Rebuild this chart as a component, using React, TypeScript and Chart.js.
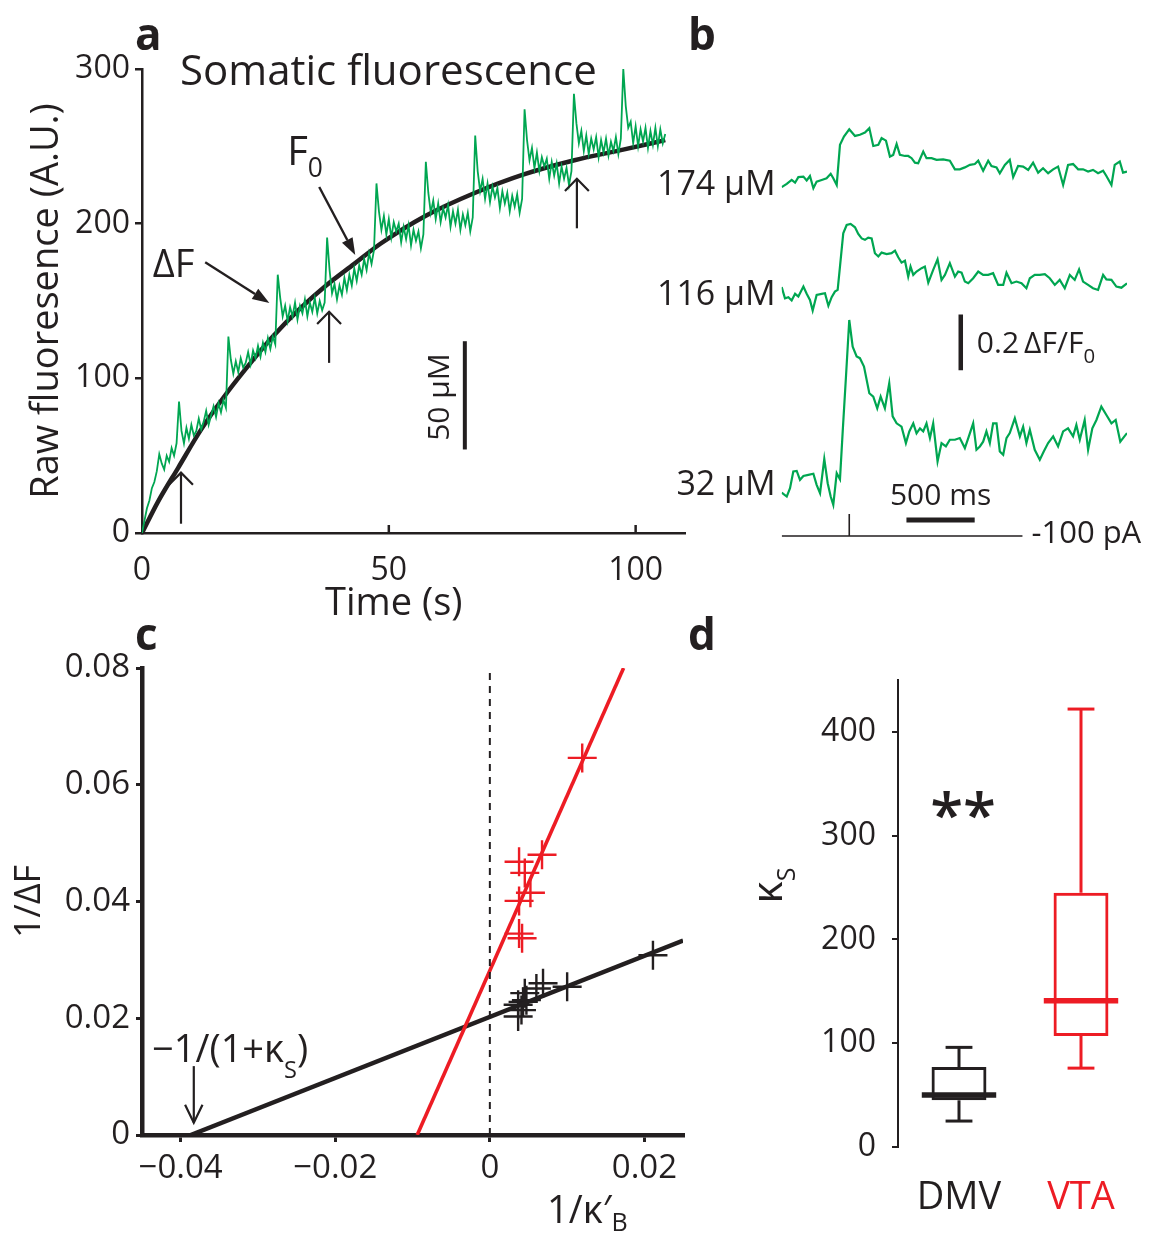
import React, { useEffect, useRef } from 'react';
import { Chart, registerables } from 'chart.js';

Chart.register(...registerables);

const FONT = '"Open Sans", "DejaVu Sans", sans-serif';
const INK = '#231f20';
const GREEN = '#00a651';
const RED = '#ed1c24';

/* ---------------- panel a : somatic fluorescence ---------------- */
const A_SAMPLE_STEP_S = 0.5;
const A_RAW_FLUORESCENCE = [
  0, 8, 16, 21, 29, 33, 40, 51, 45, 41, 50, 46, 55, 50, 58, 85,
  66, 58, 68, 61, 70, 63, 66, 74, 67, 72, 79, 70, 76, 82, 75, 84, 78, 86, 81, 127,
  112, 103, 111, 104, 113, 107, 110, 117, 109, 118, 113, 121, 114, 123, 117, 126, 119, 127, 122, 167,
  152, 140, 147, 137, 146, 140, 149, 138, 147, 142, 151, 140, 149, 143, 152, 142, 150, 144, 149, 191,
  170, 155, 161, 151, 160, 154, 165, 157, 167, 160, 171, 163, 173, 167, 177, 170, 181, 174, 183, 226,
  208, 196, 205, 193, 203, 191, 201, 195, 200, 188, 198, 190, 199, 186, 196, 189, 195, 184, 193, 240,
  220, 207, 215, 203, 213, 201, 210, 204, 212, 198, 208, 200, 209, 196, 206, 199, 207, 195, 204, 257,
  234, 221, 229, 216, 226, 214, 224, 217, 223, 210, 221, 213, 220, 208, 218, 211, 219, 207, 216, 274,
  254, 241, 249, 236, 246, 234, 243, 237, 242, 229, 240, 231, 239, 226, 237, 229, 236, 225, 234, 284,
  265, 252, 260, 247, 257, 245, 255, 248, 256, 243, 254, 246, 255, 244, 253, 247, 256, 245, 255, 300,
  276, 262, 266, 252, 263, 250, 261, 253, 262, 249, 260, 251, 262, 250, 261, 252, 258,
];
const A_FIT_TIME_S = [0, 3.2, 7.3, 12, 17.3, 22, 26.5, 32, 37.3, 43, 48.3, 57.4, 67.5, 77.5, 87.6, 97.7, 106];
const A_FIT_F0 = [0, 20, 42, 67, 91, 110, 127, 145, 160, 174, 187, 205, 220, 232, 241, 248, 254];
const A_X_TICKS = [0, 50, 100];
const A_Y_TICKS = [0, 100, 200, 300];
// [time, tail value, tip value]
const A_UP_ARROWS = [
  [7.9, 6, 39],
  [37.9, 110, 143],
  [88.1, 197, 229],
];
// [from time, from value, to time, to value]
const A_DF_ARROW = [12.8, 175, 25.8, 148.7];
const A_F0_ARROW = [35.9, 223.7, 43.2, 179.7];
const A_SCALE_BAR_TIME = 65.4;
const A_SCALE_BAR_RANGE = [54, 124];

/* ---------------- panel b : single responses ---------------- */
// [ms, ΔF/F0 in %]
const B_TRACE_174 = [
  [0, -1.4], [37, -0.2], [73, 1.2], [98, 0.2], [122, 2.2], [159, 2.4], [183, 1.0], [207, 2.6], [232, -1.8], [256, 0.6],
  [293, 1.2], [329, 1.8], [359, 3.4], [378, 1.8], [403, -0.6], [427, 13.8], [456, 16.8], [495, 19.4], [537, 17.0], [573, 17.4],
  [610, 18.2], [642, 19.8], [671, 13.4], [708, 13.8], [732, 16.2], [764, 15.3], [793, 9.6], [817, 10.2], [842, 14.1], [866, 10.2],
  [903, 9.8], [927, 9.8], [952, 9.0], [976, 7.4], [1000, 7.2], [1037, 11.4], [1061, 9.0], [1098, 9.0], [1135, 8.4], [1183, 8.6],
  [1232, 8.1], [1269, 5.0], [1305, 5.0], [1342, 5.7], [1379, 6.6], [1415, 6.9], [1440, 8.1], [1476, 4.5], [1513, 8.1], [1537, 6.2],
  [1574, 5.7], [1598, 3.6], [1635, 6.6], [1671, 8.4], [1696, 2.2], [1732, 6.2], [1769, 6.0], [1806, 4.8], [1842, 7.4], [1879, 3.8],
  [1915, 5.4], [1952, 3.6], [1989, 5.0], [2025, 6.0], [2062, -0.6], [2098, 6.6], [2135, 6.9], [2172, 5.0], [2208, 5.0], [2245, 4.2],
  [2281, 4.8], [2318, 3.6], [2355, 4.5], [2379, 2.6], [2416, -0.6], [2440, 6.6], [2477, 7.8], [2501, 3.8], [2530, 4.2],
];
const B_TRACE_116 = [
  [0, 2.2], [24, -1.8], [49, -1.4], [73, -2.6], [98, -0.2], [122, -1.2], [159, 2.4], [183, -0.2], [207, -2.4], [227, -6.2],
  [256, -0.6], [293, -0.2], [317, 0], [342, -4.5], [366, -1.4], [390, 0.6], [410, 1.2], [427, 9.6], [451, 21.5], [476, 24.5],
  [505, 24.9], [537, 23.7], [561, 21.3], [586, 19.7], [610, 19.2], [634, 20.0], [659, 19.7], [683, 14.4], [708, 13.2], [732, 14.6],
  [769, 14.1], [805, 14.4], [830, 15.3], [854, 12.9], [878, 11.0], [903, 11.7], [927, 6.0], [944, 9.6], [964, 6.6], [988, 7.8],
  [1025, 9.0], [1049, 9.6], [1074, 3.8], [1110, 8.4], [1142, 12.2], [1171, 4.8], [1196, 6.6], [1232, 10.8], [1269, 6.0], [1293, 7.8],
  [1318, 7.4], [1342, 4.2], [1367, 3.6], [1403, 5.4], [1440, 7.8], [1476, 6.6], [1513, 6.6], [1549, 7.2], [1586, 3.0], [1623, 3.0],
  [1647, 7.4], [1684, 3.6], [1720, 4.2], [1757, 3.6], [1793, 1.8], [1818, 5.4], [1854, 6.6], [1891, 6.6], [1928, 6.9], [1964, 5.4],
  [2001, 3.0], [2037, 4.8], [2074, 1.8], [2111, 6.6], [2147, 4.8], [2179, 8.6], [2208, 4.2], [2245, 3.0], [2281, 1.8], [2318, 1.2],
  [2355, 6.6], [2379, 5.0], [2416, 4.8], [2452, 2.4], [2489, 2.0], [2530, 3.6],
];
const B_TRACE_32 = [
  [0, -3.4], [37, -4.8], [61, -1.8], [85, 4.2], [110, 4.4], [134, 1.2], [159, 2.6], [195, 3.0], [232, 3.4], [256, -0.6],
  [281, -3.6], [312, 8.7], [337, 0], [359, -4.8], [378, -7.8], [403, 3.6], [427, 1.4], [447, 18.6], [471, 38.3], [495, 58.6],
  [520, 49.0], [549, 45.5], [573, 44.9], [603, 41.9], [642, 32.3], [671, 31.1], [700, 26.9], [725, 31.1], [756, 26.9], [788, 35.9],
  [813, 24.0], [842, 21.5], [878, 20.3], [910, 14.4], [935, 18.6], [964, 21.5], [988, 17.9], [1013, 19.7], [1037, 18.6], [1061, 21.5],
  [1086, 16.2], [1110, 21.5], [1142, 7.8], [1171, 14.4], [1203, 13.2], [1232, 15.6], [1269, 15.6], [1305, 16.2], [1342, 12.6], [1367, 16.2],
  [1403, 21.5], [1427, 12.0], [1452, 13.2], [1476, 14.9], [1500, 18.6], [1525, 14.4], [1549, 21.5], [1574, 21.5], [1598, 11.4], [1623, 10.2],
  [1647, 16.2], [1671, 18.0], [1708, 23.3], [1745, 16.8], [1769, 20.3], [1793, 14.4], [1818, 19.2], [1854, 12.0], [1891, 8.4], [1920, 11.4],
  [1952, 14.4], [1989, 16.8], [2025, 13.2], [2062, 18.6], [2098, 19.7], [2135, 16.8], [2159, 20.9], [2184, 15.6], [2220, 22.7], [2245, 12.0],
  [2276, 19.7], [2306, 22.7], [2342, 27.5], [2379, 24.5], [2416, 21.5], [2447, 22.7], [2481, 14.9], [2530, 18.0],
];
const B_TRACE_LABELS = ['174 μM', '116 μM', '32 μM'];
const B_TRACE_OFFSETS = [128.1, 88.6, 20.4];
const B_STIM_TIME = [0, 495, 495, 495, 1764];
const B_STIM_SHAPE = [0, 0, 1, 0, 0];
const B_STIM_BASE = 1.44;
const B_STIM_TICK = 7.9;
const B_TIME_BAR_MS = [914, 1414];
const B_TIME_BAR_LEVEL = 7.2;
const B_DFF_BAR_MS = 1312;
const B_DFF_BAR_RANGE = [61, 81];

/* ---------------- panel c : double reciprocal plot ---------------- */
const C_RED_X = [0.01195, 0.00675, 0.00378, 0.00452, 0.00525, 0.00378, 0.00378, 0.00417];
const C_RED_Y = [0.0646, 0.048, 0.0468, 0.0449, 0.0415, 0.0401, 0.0345, 0.0337];
const C_BLACK_X = [0.0211, 0.01, 0.00688, 0.00602, 0.00452, 0.0043, 0.00366, 0.00409, 0.00366, 0.00473];
const C_BLACK_Y = [0.0308, 0.0254, 0.026, 0.0251, 0.0243, 0.0228, 0.0223, 0.0214, 0.0203, 0.0231];
const C_RED_FIT_X = [-0.0094, 0.0173];
const C_RED_FIT_Y = [0, 0.08];
const C_BLACK_FIT_X = [-0.0387, 0.025];
const C_BLACK_FIT_Y = [0, 0.0333];
const C_X_TICK_VALUES = [-0.04, -0.02, 0, 0.02];
const C_X_TICK_LABELS = ['−0.04', '−0.02', '0', '0.02'];
const C_Y_TICK_VALUES = [0, 0.02, 0.04, 0.06, 0.08];
const C_Y_TICK_LABELS = ['0', '0.02', '0.04', '0.06', '0.08'];

/* ---------------- panel d : κS box plot ---------------- */
const D_GROUPS = ['DMV', 'VTA'];
const D_WHISKER_LOW = [25, 76];
const D_Q1 = [45, 107];
const D_MEDIAN = [50, 141];
const D_Q3 = [77, 245];
const D_WHISKER_HIGH = [96, 422];
const D_COLORS = [INK, RED];
const D_Y_TICKS = [0, 100, 200, 300, 400];

/* ---------------- drawing helpers ---------------- */
type Run = { t: string; sub?: boolean };

function strokeLine(ctx: CanvasRenderingContext2D, x1: number, y1: number, x2: number, y2: number) {
  ctx.beginPath();
  ctx.moveTo(x1, y1);
  ctx.lineTo(x2, y2);
  ctx.stroke();
}

function openArrow(ctx: CanvasRenderingContext2D, x1: number, y1: number, x2: number, y2: number, head: number, spread: number, width: number) {
  ctx.lineWidth = width;
  strokeLine(ctx, x1, y1, x2, y2);
  const a = Math.atan2(y2 - y1, x2 - x1);
  ctx.beginPath();
  ctx.moveTo(x2 - head * Math.cos(a - spread), y2 - head * Math.sin(a - spread));
  ctx.lineTo(x2, y2);
  ctx.lineTo(x2 - head * Math.cos(a + spread), y2 - head * Math.sin(a + spread));
  ctx.stroke();
}

function filledArrow(ctx: CanvasRenderingContext2D, x1: number, y1: number, x2: number, y2: number, head: number, halfW: number, width: number) {
  const a = Math.atan2(y2 - y1, x2 - x1);
  const bx = x2 - head * Math.cos(a);
  const by = y2 - head * Math.sin(a);
  ctx.lineWidth = width;
  strokeLine(ctx, x1, y1, bx, by);
  ctx.beginPath();
  ctx.moveTo(x2, y2);
  ctx.lineTo(bx + halfW * Math.sin(a), by - halfW * Math.cos(a));
  ctx.lineTo(bx - halfW * Math.sin(a), by + halfW * Math.cos(a));
  ctx.closePath();
  ctx.fill();
}

function drawRuns(
  ctx: CanvasRenderingContext2D,
  runs: Run[],
  x: number,
  y: number,
  size: number,
  align: 'left' | 'center' | 'right',
  color: string,
  subScale = 0.68,
  subDrop = 0.3,
  weight = 'normal',
) {
  const fontFor = (r: Run) => `${weight} ${r.sub ? size * subScale : size}px ${FONT}`;
  const widths = runs.map((r) => {
    ctx.font = fontFor(r);
    return ctx.measureText(r.t).width;
  });
  const total = widths.reduce((s, w) => s + w, 0);
  let cx = align === 'left' ? x : align === 'center' ? x - total / 2 : x - total;
  ctx.fillStyle = color;
  ctx.textAlign = 'left';
  ctx.textBaseline = 'alphabetic';
  runs.forEach((r, i) => {
    ctx.font = fontFor(r);
    ctx.fillText(r.t, cx, r.sub ? y + size * subDrop : y);
    cx += widths[i];
  });
}

function fixedTicks(values: number[]) {
  return (scale: any) => {
    scale.ticks = values.map((value) => ({ value }));
  };
}

function labelFor(values: number[], labels: string[]) {
  return (value: any) => {
    const i = values.findIndex((v) => Math.abs(v - Number(value)) < 1e-9);
    return i >= 0 ? labels[i] : '';
  };
}

const baseOptions = {
  animation: false,
  responsive: false,
  maintainAspectRatio: false,
  events: [],
  plugins: { legend: { display: false }, tooltip: { enabled: false }, title: { display: false } },
};

/* ---------------- panel a ---------------- */
const panelAPlugin = {
  id: 'panelAAnnotations',
  afterDatasetsDraw(chart: any) {
    const { ctx, chartArea, scales } = chart;
    const px = (t: number) => scales.x.getPixelForValue(t);
    const py = (v: number) => scales.y.getPixelForValue(v);
    ctx.save();
    ctx.strokeStyle = INK;
    ctx.fillStyle = INK;
    ctx.lineWidth = 2.5;
    A_X_TICKS.filter((t) => t > 0).forEach((t) => strokeLine(ctx, px(t), chartArea.bottom, px(t), chartArea.bottom - 8));
    A_UP_ARROWS.forEach(([t, tail, tip]) => openArrow(ctx, px(t), py(tail), px(t), py(tip), 17, 0.78, 2.2));
    filledArrow(ctx, px(A_DF_ARROW[0]), py(A_DF_ARROW[1]), px(A_DF_ARROW[2]), py(A_DF_ARROW[3]), 17, 6, 2.4);
    filledArrow(ctx, px(A_F0_ARROW[0]), py(A_F0_ARROW[1]), px(A_F0_ARROW[2]), py(A_F0_ARROW[3]), 17, 6, 2.4);
    drawRuns(ctx, [{ t: 'Somatic fluorescence' }], px(7.7), py(289.6), 42, 'left', INK);
    drawRuns(ctx, [{ t: 'ΔF' }], px(2.2), py(165.5), 38, 'left', INK);
    drawRuns(ctx, [{ t: 'F' }, { t: '0', sub: true }], px(29.4), py(237.9), 40, 'left', INK, 0.66, 0.3);
    drawRuns(ctx, [{ t: 'Time (s)' }], px(51), chartArea.bottom + 82, 38, 'center', INK);
    ctx.save();
    ctx.translate(px(62.2), py(87.9));
    ctx.rotate(-Math.PI / 2);
    drawRuns(ctx, [{ t: '50 μM' }], 0, 0, 30, 'center', INK);
    ctx.restore();
    ctx.restore();
  },
};

function buildPanelA() {
  return {
    type: 'scatter',
    data: {
      datasets: [
        {
          label: 'Raw fluorescence',
          data: A_RAW_FLUORESCENCE.map((v, i) => ({ x: i * A_SAMPLE_STEP_S, y: v })),
          showLine: true,
          borderColor: GREEN,
          borderWidth: 1.8,
          pointRadius: 0,
          tension: 0,
        },
        {
          label: 'F0',
          data: A_FIT_TIME_S.map((t, i) => ({ x: t, y: A_FIT_F0[i] })),
          showLine: true,
          borderColor: INK,
          borderWidth: 4.5,
          pointRadius: 0,
          cubicInterpolationMode: 'monotone',
        },
        {
          label: '50 μM',
          data: A_SCALE_BAR_RANGE.map((v) => ({ x: A_SCALE_BAR_TIME, y: v })),
          showLine: true,
          borderColor: INK,
          borderWidth: 4,
          pointRadius: 0,
        },
      ],
    },
    options: {
      ...baseOptions,
      layout: { padding: { left: 0, top: 69, right: 15, bottom: 0 } },
      scales: {
        x: {
          type: 'linear',
          min: 0,
          max: 110,
          afterFit: (s: any) => {
            s.height = 97;
          },
          afterBuildTicks: fixedTicks(A_X_TICKS),
          border: { display: true, color: INK, width: 2.5 },
          grid: { display: false, drawTicks: false },
          ticks: { padding: 19, color: INK, maxRotation: 0, font: { family: FONT, size: 32 } },
        },
        y: {
          type: 'linear',
          min: 0,
          max: 300,
          afterFit: (s: any) => {
            s.width = 142;
          },
          afterBuildTicks: fixedTicks(A_Y_TICKS),
          border: { display: true, color: INK, width: 2.5 },
          grid: { drawOnChartArea: false, drawTicks: true, tickLength: 7, color: INK, lineWidth: 2.5 },
          ticks: { padding: 5, color: INK, font: { family: FONT, size: 32 } },
          title: {
            display: true,
            text: 'Raw fluoresence (A.U.)',
            color: INK,
            font: { family: FONT, size: 38 },
            padding: { top: 24, bottom: 0 },
          },
        },
      },
    },
    plugins: [panelAPlugin],
  };
}

/* ---------------- panel b ---------------- */
const B_TRACES = [B_TRACE_174, B_TRACE_116, B_TRACE_32];

const panelBPlugin = {
  id: 'panelBAnnotations',
  afterDatasetsDraw(chart: any) {
    const { ctx, chartArea, scales } = chart;
    const px = (t: number) => scales.x.getPixelForValue(t);
    const py = (v: number) => scales.y.getPixelForValue(v);
    ctx.save();
    B_TRACE_LABELS.forEach((label, i) => drawRuns(ctx, [{ t: label }], chartArea.left - 6, py(B_TRACE_OFFSETS[i]) + 12, 34, 'right', INK));
    drawRuns(ctx, [{ t: '0.2\u2009ΔF/F' }, { t: '0', sub: true }], px(B_DFF_BAR_MS + 118), py(67.1), 30, 'left', INK, 0.68, 0.33);
    drawRuns(ctx, [{ t: '500 ms' }], px((B_TIME_BAR_MS[0] + B_TIME_BAR_MS[1]) / 2), py(12.6), 30, 'center', INK);
    drawRuns(ctx, [{ t: '-100 pA' }], px(B_STIM_TIME[B_STIM_TIME.length - 1]) + 9, py(B_STIM_BASE) + 7, 31, 'left', INK);
    ctx.restore();
  },
};

function buildPanelB() {
  const traces = B_TRACES.map((tr, i) => ({
    label: B_TRACE_LABELS[i],
    data: tr.map(([t, v]) => ({ x: t, y: v + B_TRACE_OFFSETS[i] })),
    showLine: true,
    borderColor: GREEN,
    borderWidth: 2.2,
    pointRadius: 0,
    tension: 0,
  }));
  return {
    type: 'scatter',
    data: {
      datasets: [
        ...traces,
        {
          label: 'stimulus',
          data: B_STIM_TIME.map((t, i) => ({ x: t, y: B_STIM_BASE + B_STIM_SHAPE[i] * B_STIM_TICK })),
          showLine: true,
          borderColor: INK,
          borderWidth: 1.6,
          pointRadius: 0,
        },
        {
          label: '500 ms',
          data: B_TIME_BAR_MS.map((t) => ({ x: t, y: B_TIME_BAR_LEVEL })),
          showLine: true,
          borderColor: INK,
          borderWidth: 5,
          pointRadius: 0,
        },
        {
          label: '0.2 ΔF/F0',
          data: B_DFF_BAR_RANGE.map((v) => ({ x: B_DFF_BAR_MS, y: v })),
          showLine: true,
          borderColor: INK,
          borderWidth: 4.5,
          pointRadius: 0,
        },
      ],
    },
    options: {
      ...baseOptions,
      layout: { padding: { left: 141.7, top: 20, right: 24, bottom: 30 } },
      scales: {
        x: { type: 'linear', display: false, min: 0, max: 2530 },
        y: { type: 'linear', display: false, min: 0, max: 158 },
      },
    },
    plugins: [panelBPlugin],
  };
}

/* ---------------- panel c ---------------- */
const panelCPlugin = {
  id: 'panelCAnnotations',
  afterDatasetsDraw(chart: any) {
    const { ctx, chartArea, scales } = chart;
    const px = (t: number) => scales.x.getPixelForValue(t);
    const py = (v: number) => scales.y.getPixelForValue(v);
    ctx.save();
    ctx.strokeStyle = INK;
    drawRuns(ctx, [{ t: '−1/(1+κ' }, { t: 'S', sub: true }, { t: ')' }], px(-0.0437), py(0.0125), 38, 'left', INK, 0.62, 0.42);
    openArrow(ctx, px(-0.0383), py(0.0118), px(-0.0383), py(0.0021), 20, 0.45, 2.2);
    drawRuns(ctx, [{ t: '1/κ′' }, { t: 'B', sub: true }], px(0.0074), chartArea.bottom + 88, 38, 'left', INK, 0.66, 0.22);
    ctx.restore();
  },
};

function buildPanelC() {
  const line = (label: string, xs: number[], ys: number[], color: string, width: number, dash: number[] = []) => ({
    label,
    data: xs.map((x, i) => ({ x, y: ys[i] })),
    showLine: true,
    borderColor: color,
    borderWidth: width,
    borderDash: dash,
    pointRadius: 0,
  });
  const crosses = (label: string, xs: number[], ys: number[], color: string) => ({
    label,
    data: xs.map((x, i) => ({ x, y: ys[i] })),
    showLine: false,
    pointStyle: 'cross',
    pointRadius: 14.5,
    pointBorderWidth: 2.4,
    borderColor: color,
    backgroundColor: color,
  });
  return {
    type: 'scatter',
    data: {
      datasets: [
        line('zero', [0, 0], [0, 0.08], INK, 2, [7, 6]),
        line('VTA fit', C_RED_FIT_X, C_RED_FIT_Y, RED, 3.6),
        line('DMV fit', C_BLACK_FIT_X, C_BLACK_FIT_Y, INK, 4.5),
        crosses('VTA', C_RED_X, C_RED_Y, RED),
        crosses('DMV', C_BLACK_X, C_BLACK_Y, INK),
      ],
    },
    options: {
      ...baseOptions,
      layout: { padding: { left: 0, top: 38, right: 15, bottom: 0 } },
      scales: {
        x: {
          type: 'linear',
          min: -0.045,
          max: 0.025,
          afterFit: (s: any) => {
            s.height = 99;
          },
          afterBuildTicks: fixedTicks(C_X_TICK_VALUES),
          border: { display: true, color: INK, width: 4.5 },
          grid: { drawOnChartArea: false, drawTicks: true, tickLength: 7, color: INK, lineWidth: 3 },
          ticks: { padding: 7, color: INK, maxRotation: 0, font: { family: FONT, size: 33 }, callback: labelFor(C_X_TICK_VALUES, C_X_TICK_LABELS) },
        },
        y: {
          type: 'linear',
          min: 0,
          max: 0.08,
          afterFit: (s: any) => {
            s.width = 142;
          },
          afterBuildTicks: fixedTicks(C_Y_TICK_VALUES),
          border: { display: true, color: INK, width: 4.5 },
          grid: { drawOnChartArea: false, drawTicks: true, tickLength: 6, color: INK, lineWidth: 3 },
          ticks: { padding: 6, color: INK, font: { family: FONT, size: 33 }, callback: labelFor(C_Y_TICK_VALUES, C_Y_TICK_LABELS) },
          title: { display: true, text: '1/ΔF', color: INK, font: { family: FONT, size: 36 }, padding: { top: 8, bottom: 0 } },
        },
      },
    },
    plugins: [panelCPlugin],
  };
}

/* ---------------- panel d ---------------- */
const panelDPlugin = {
  id: 'panelDBoxes',
  afterDatasetsDraw(chart: any) {
    const { ctx, chartArea, scales } = chart;
    const py = (v: number) => scales.y.getPixelForValue(v);
    const catW = scales.x.getPixelForValue(1) - scales.x.getPixelForValue(0);
    ctx.save();
    D_GROUPS.forEach((_, i) => {
      const cx = scales.x.getPixelForValue(i);
      ctx.strokeStyle = D_COLORS[i];
      ctx.lineWidth = 3;
      strokeLine(ctx, cx, py(D_Q3[i]), cx, py(D_WHISKER_HIGH[i]));
      strokeLine(ctx, cx, py(D_Q1[i]), cx, py(D_WHISKER_LOW[i]));
      const cap = catW * 0.11;
      strokeLine(ctx, cx - cap, py(D_WHISKER_HIGH[i]), cx + cap, py(D_WHISKER_HIGH[i]));
      strokeLine(ctx, cx - cap, py(D_WHISKER_LOW[i]), cx + cap, py(D_WHISKER_LOW[i]));
      const med = catW * 0.305;
      ctx.lineWidth = 5.5;
      strokeLine(ctx, cx - med, py(D_MEDIAN[i]), cx + med, py(D_MEDIAN[i]));
    });
    drawRuns(ctx, [{ t: '**' }], scales.x.getPixelForValue(0) + 4, py(300), 60, 'center', INK, 0.68, 0.3, '600');
    ctx.save();
    ctx.translate(chartArea.left - 116, py(252));
    ctx.rotate(-Math.PI / 2);
    drawRuns(ctx, [{ t: 'κ' }, { t: 'S', sub: true }], 0, 0, 42, 'center', INK, 0.6, 0.3);
    ctx.restore();
    ctx.restore();
  },
};

function buildPanelD() {
  return {
    type: 'bar',
    data: {
      labels: D_GROUPS,
      datasets: [
        {
          label: 'κS',
          data: D_Q1.map((q, i) => [q, D_Q3[i]]),
          backgroundColor: 'rgba(0,0,0,0)',
          borderColor: D_COLORS,
          borderWidth: 3,
          borderSkipped: false,
          barPercentage: 0.45,
          categoryPercentage: 1,
        },
      ],
    },
    options: {
      ...baseOptions,
      layout: { padding: { left: 0, top: 50, right: 9, bottom: 0 } },
      scales: {
        x: {
          afterFit: (s: any) => {
            s.height = 87;
          },
          border: { display: false },
          grid: { display: false, drawTicks: false },
          ticks: { padding: 28, color: (c: any) => D_COLORS[c.index], font: { family: FONT, size: 38 } },
        },
        y: {
          type: 'linear',
          min: 0,
          max: 450,
          afterFit: (s: any) => {
            s.width = 198;
          },
          afterBuildTicks: fixedTicks(D_Y_TICKS),
          border: { display: true, color: INK, width: 2 },
          grid: { drawOnChartArea: false, drawTicks: true, tickLength: 6, color: INK, lineWidth: 2 },
          ticks: { padding: 16, color: INK, font: { family: FONT, size: 32 } },
        },
      },
    },
    plugins: [panelDPlugin],
  };
}

/* ---------------- components ---------------- */
function ChartCanvas({ left, top, width, height, build }: { left: number; top: number; width: number; height: number; build: () => any }) {
  const ref = useRef<HTMLCanvasElement | null>(null);
  useEffect(() => {
    if (!ref.current) return undefined;
    const chart = new Chart(ref.current, build());
    return () => chart.destroy();
  }, [build]);
  return <canvas ref={ref} width={width} height={height} style={{ position: 'absolute', left, top, width, height }} />;
}

const letterStyle = (left: number, top: number): React.CSSProperties => ({
  position: 'absolute',
  left,
  top,
  margin: 0,
  fontFamily: FONT,
  fontWeight: 700,
  fontSize: 44,
  lineHeight: '44px',
  color: INK,
});

export default function App() {
  return (
    <div style={{ position: 'absolute', left: 0, top: 0, width: 1151, height: 1234, background: '#ffffff', overflow: 'hidden' }}>
      <ChartCanvas left={0} top={0} width={700} height={630} build={buildPanelA} />
      <ChartCanvas left={0} top={630} width={700} height={604} build={buildPanelC} />
      <ChartCanvas left={700} top={630} width={451} height={604} build={buildPanelD} />
      <ChartCanvas left={640} top={80} width={511} height={490} build={buildPanelB} />
      <div style={letterStyle(135, 11)}>a</div>
      <div style={letterStyle(688, 11)}>b</div>
      <div style={letterStyle(135, 611)}>c</div>
      <div style={letterStyle(688, 611)}>d</div>
    </div>
  );
}
